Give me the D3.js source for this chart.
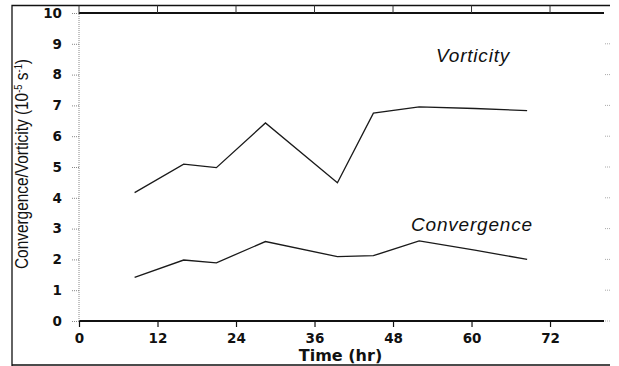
<!DOCTYPE html>
<html>
<head>
<meta charset="utf-8">
<script src="https://cdn.jsdelivr.net/npm/d3@7"></script>
<style>
    body { margin: 0; background: #fff; }
    svg { display: block; }
</style>
</head>
<body>
<div id="chart"></div>
<script>
// time (hr) of each sample
var hours = [8.5, 16, 21, 28.5, 39.5, 45, 52, 60.5, 68.5];
// values in 10^-5 s^-1
var vorticity = [4.17, 5.09, 4.98, 6.43, 4.49, 6.75, 6.95, 6.9, 6.83];
var convergence = [1.42, 1.98, 1.89, 2.58, 2.09, 2.12, 2.6, 2.3, 2.0];
var xTicks = [0, 12, 24, 36, 48, 60, 72];
var yTicks = [0, 1, 2, 3, 4, 5, 6, 7, 8, 9, 10];

var width = 619, height = 366;

var svg = d3.select('#chart').append('svg')
    .attr('width', width)
    .attr('height', height);

var x = d3.scaleLinear()
    .domain([0, 80.25])
    .range([79, 604]);

var y = d3.scaleLinear()
    .domain([0, 10])
    .range([321, 13]);

var tickFont = '"DejaVu Sans", sans-serif';

// outer frame (left, top and bottom only)
svg.append('path')
    .attr('d', 'M12,366 L12,5.5 L610,5.5 M12,365 L610,365')
    .attr('fill', 'none')
    .attr('stroke', '#111')
    .attr('stroke-width', 1.3);

// top edge: thick line at 10 with ticks up to the frame
var topEdge = svg.append('g');
topEdge.append('line')
    .attr('x1', x(0)).attr('x2', x.range()[1])
    .attr('y1', y(10)).attr('y2', y(10))
    .attr('stroke', '#111')
    .attr('stroke-width', 2);
topEdge.selectAll('.tt')
    .data(xTicks)
    .enter().append('line')
    .attr('class', 'tt')
    .attr('x1', function(d) { return x(d); })
    .attr('x2', function(d) { return x(d); })
    .attr('y1', 5.5)
    .attr('y2', y(10))
    .attr('stroke', '#333')
    .attr('stroke-width', 1);

// bottom axis
var xAxis = svg.append('g')
    .attr('transform', 'translate(0,' + y(0) + ')')
    .call(d3.axisBottom(x).tickValues(xTicks).tickSize(6).tickPadding(6).tickFormat(d3.format('d')));
xAxis.select('.domain')
    .attr('stroke', '#111')
    .attr('stroke-width', 2)
    .attr('d', 'M' + x(0) + ',0H' + x.range()[1]);
xAxis.selectAll('.tick line').attr('stroke', '#111').attr('stroke-width', 1.2);
xAxis.selectAll('.tick text')
    .attr('fill', '#111')
    .style('font-family', tickFont)
    .style('font-weight', 'bold')
    .style('font-size', '13.5px');

// left axis: dotted grey line and ticks
var yAxis = svg.append('g')
    .attr('transform', 'translate(' + x(0) + ',0)')
    .call(d3.axisLeft(y).tickValues(yTicks).tickSize(7).tickPadding(10));
yAxis.select('.domain')
    .attr('stroke', '#888')
    .attr('stroke-dasharray', '1,1')
    .attr('d', 'M0,' + y(0) + 'V' + y(10));
yAxis.selectAll('.tick line')
    .attr('stroke', '#888')
    .attr('stroke-dasharray', '1,1');
yAxis.selectAll('.tick text')
    .attr('fill', '#111')
    .style('font-family', tickFont)
    .style('font-weight', 'bold')
    .style('font-size', '13.5px');

// right side: small dotted ticks only
svg.append('g').selectAll('line')
    .data(yTicks.slice(0, -1))
    .enter().append('line')
    .attr('x1', x.range()[1] + 1)
    .attr('x2', x.range()[1] + 7)
    .attr('y1', function(d) { return y(d); })
    .attr('y2', function(d) { return y(d); })
    .attr('stroke', '#aaa')
    .attr('stroke-dasharray', '1,1');

// series lines
var line = d3.line()
    .x(function(d) { return x(d[0]); })
    .y(function(d) { return y(d[1]); });

[vorticity, convergence].forEach(function(vals) {
    svg.append('path')
        .datum(d3.zip(hours, vals))
        .attr('d', line)
        .attr('fill', 'none')
        .attr('stroke', '#1a1a1a')
        .attr('stroke-width', 1.3);
});

// series labels
var labelStyle = function(t) {
    t.style('font-family', '"Liberation Sans", Arial, sans-serif')
        .style('font-style', 'italic')
        .style('font-size', '19px')
        .style('letter-spacing', '0.8px')
        .attr('fill', '#111');
};
svg.append('text').attr('x', 436).attr('y', 62).text('Vorticity').call(labelStyle);
svg.append('text').attr('x', 411).attr('y', 231).text('Convergence').call(labelStyle);

// x title
svg.append('text')
    .attr('x', 340.5)
    .attr('y', 361)
    .attr('text-anchor', 'middle')
    .style('font-family', tickFont)
    .style('font-weight', 'bold')
    .style('font-size', '16px')
    .attr('fill', '#111')
    .text('Time (hr)');

// y title with superscripts
var yt = svg.append('text')
    .attr('transform', 'translate(28,164) rotate(-90)')
    .attr('text-anchor', 'middle')
    .attr('textLength', 210)
    .attr('lengthAdjust', 'spacingAndGlyphs')
    .style('font-family', '"Liberation Sans", Arial, sans-serif')
    .style('font-size', '18px')
    .attr('fill', '#111');
yt.append('tspan').text('Convergence/Vorticity (10');
yt.append('tspan').attr('dy', -6).style('font-size', '11px').text('-5');
yt.append('tspan').attr('dy', 6).text(' s');
yt.append('tspan').attr('dy', -6).style('font-size', '11px').text('-1');
yt.append('tspan').attr('dy', 6).text(')');
</script>
</body>
</html>
